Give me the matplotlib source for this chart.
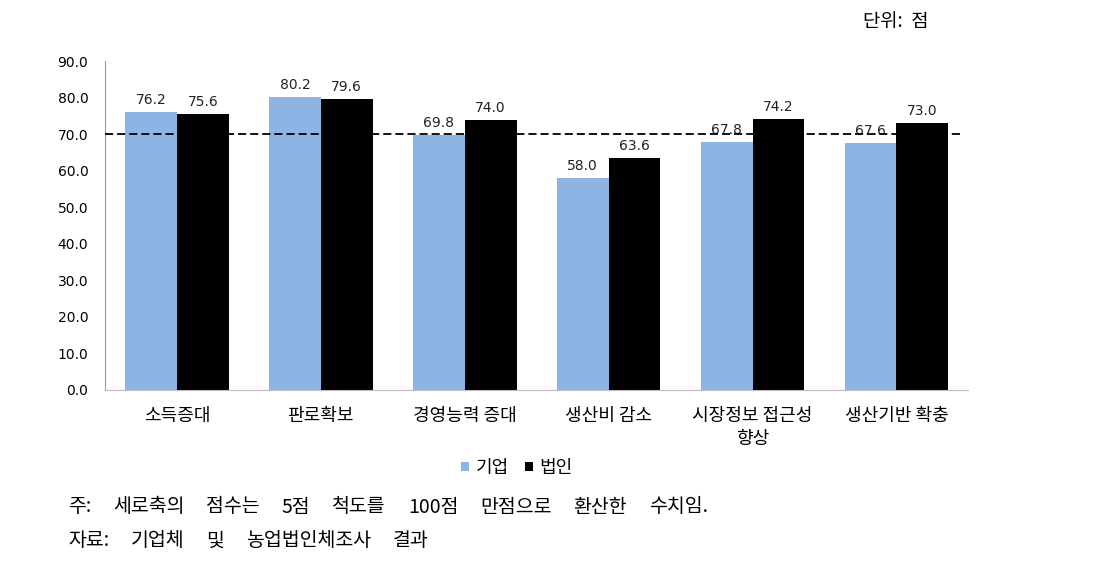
import matplotlib

matplotlib.use("Agg")
import matplotlib.pyplot as plt
import numpy as np

plt.rcParams["font.family"] = ["Noto Sans CJK KR", "DejaVu Sans"]

categories = ["소득증대", "판로확보", "경영능력 증대", "생산비 감소", "시장정보 접근성\n향상", "생산기반 확충"]
corp = [76.2, 80.2, 69.8, 58.0, 67.8, 67.6]
farm = [75.6, 79.6, 74.0, 63.6, 74.2, 73.0]
series_names = ["기업", "법인"]
reference_line = 70.0
unit_label = "단위:  점"
note_words = ["주:", "세로축의", "점수는", "5점", "척도를", "100점", "만점으로", "환산한", "수치임."]
source_words = ["자료:", "기업체", "및", "농업법인체조사", "결과"]

W, H = 1093, 571
fig = plt.figure(figsize=(W / 100, H / 100), dpi=100)
ax = fig.add_axes([0.096, 0.317, 0.79, 0.576])

x = np.arange(len(categories))
w = 0.36
b1 = ax.bar(x - w / 2, corp, w, color="#8eb4e3", label=series_names[0])
b2 = ax.bar(x + w / 2, farm, w, color="#000000", label=series_names[1])

for bars, vals in ((b1, corp), (b2, farm)):
    for r, v in zip(bars, vals):
        ax.text(r.get_x() + r.get_width() / 2, v + 1.3, f"{v:.1f}", ha="center", va="bottom",
                fontsize=10, family="DejaVu Sans", color="#222222")

ax.axhline(reference_line, xmin=0, xmax=0.99, color="black", linestyle=(0, (4.5, 2.2)),
           linewidth=1.3, zorder=3)

ax.set_xlim(-0.5, len(categories) - 0.5)
ax.set_ylim(0, 90)
ticks = np.arange(0, 91, 10)
ax.set_yticks(ticks)
ax.set_yticklabels([f"{t:.1f}" for t in ticks], family="DejaVu Sans", fontsize=10)
ax.set_xticks(x)
ax.set_xticklabels(categories, fontsize=13, linespacing=1.4)
ax.tick_params(axis="both", length=0)
ax.tick_params(axis="x", pad=12)
ax.tick_params(axis="y", pad=12)

for s in ("top", "right"):
    ax.spines[s].set_visible(False)
ax.spines["left"].set_color("#9a9a9a")
ax.spines["bottom"].set_color("#bdbdbd")

fig.legend(handles=[b1, b2], labels=series_names, loc="center", bbox_to_anchor=(517 / W, 1 - 468 / H),
           ncol=2, frameon=False, fontsize=13, handlelength=0.45, handleheight=0.45,
           handletextpad=0.35, columnspacing=0.9)

fig.text(863 / W, 1 - 22 / H, unit_label, fontsize=13.5, ha="left", va="center")

# footnotes: justified word spacing like the source document
renderer = fig.canvas.get_renderer()


def word_widths(words, size):
    out = []
    for wd in words:
        t = fig.text(0, 0, wd, fontsize=size)
        out.append(t.get_window_extent(renderer).width)
        t.remove()
    return out


fs = 14
left, right = 68, 708
nw = word_widths(note_words, fs)
gap = (right - left - sum(nw)) / (len(note_words) - 1)
px = left
for wd, ww in zip(note_words, nw):
    fig.text(px / W, 1 - 507 / H, wd, fontsize=fs, va="center")
    px += ww + gap
sw = word_widths(source_words, fs)
px = left
for wd, ww in zip(source_words, sw):
    fig.text(px / W, 1 - 541 / H, wd, fontsize=fs, va="center")
    px += ww + gap

fig.savefig("out.png", dpi=100)
